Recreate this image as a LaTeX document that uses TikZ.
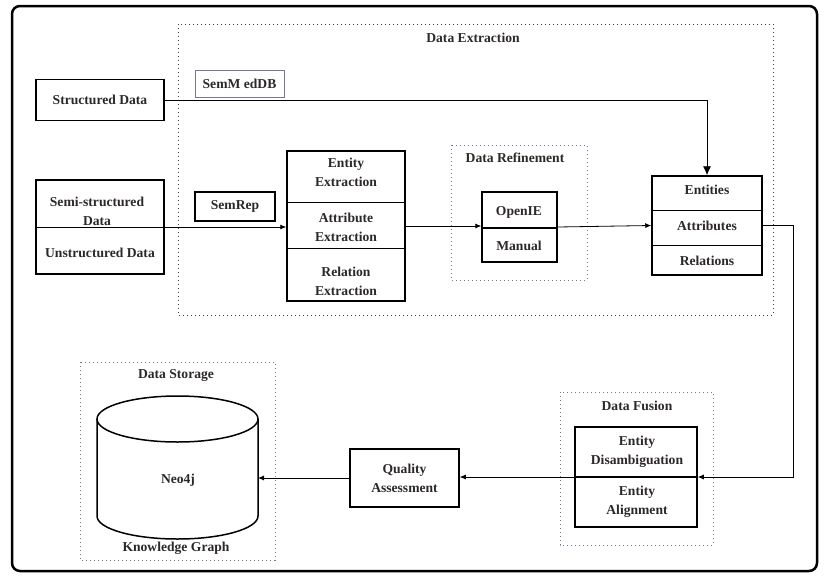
\documentclass[tikz,border=0pt]{standalone}
\usepackage{fontspec}
\setmainfont{Liberation Serif}
\usetikzlibrary{arrows.meta}

\definecolor{grpgray}{RGB}{125,115,150}
\definecolor{txtgray}{RGB}{45,40,40}

\tikzset{
  box/.style={draw, line width=1.5pt, inner sep=0pt},
  part/.style={font=\fontsize{13.6}{19}\selectfont\bfseries, text=txtgray, align=center},
  group/.style={draw=grpgray, dash pattern=on 1pt off 3pt, line width=1pt},
  arr/.style={-{Latex[length=6pt,width=5pt]}, line width=0.8pt},
}

\begin{document}
\begin{tikzpicture}[x=1pt, y=-1pt]
  \useasboundingbox (0,0) rectangle (830,581);

  % 外枠
  \draw[line width=2.5pt, rounded corners=8pt] (12,6) rectangle (817,571);

  % 点線の枠
  \draw[group, draw=black!75] (178,24) rectangle (773,315);
  \draw[group] (451,145) rectangle (587,280);
  \draw[group] (560,392) rectangle (713,545);
  \draw[group] (80,362) rectangle (275,560);

  % 箱
  \node[box, part, minimum width=128pt, minimum height=41pt] (sd) at (100,100) {Structured Data};
  \node[box, part, draw=grpgray, line width=0.8pt, minimum width=89pt, minimum height=27pt] (semmed) at (239.5,83.5) {SemM edDB};
  \node[box, part, minimum width=80pt, minimum height=29pt] (semrep) at (235,206.5) {SemRep};
  \node[box, minimum width=128pt, minimum height=94pt] (semi) at (100,227) {};
  \node[box, minimum width=118pt, minimum height=150pt] (ext) at (346,226) {};
  \node[box, minimum width=75pt, minimum height=70pt] (ref) at (519.5,227) {};
  \node[box, minimum width=110pt, minimum height=99pt] (ent) at (707,225.5) {};
  \node[box, minimum width=122pt, minimum height=100pt] (fus) at (636,477) {};
  \node[box, part, minimum width=109pt, minimum height=58pt] (qa) at (404.5,478) {Quality\\Assessment};

  % 円柱
  \draw[line width=1.5pt] (97,419) -- (97,516) arc[start angle=180, end angle=0, x radius=80.5, y radius=23] -- (258,419);
  \draw[line width=1.5pt] (177.5,419) ellipse[x radius=80.5, y radius=23];
  \coordinate (neo) at (258,478);

  % 区切り線
  \draw[line width=0.8pt] (36,227) -- (164,227);
  \draw[line width=0.8pt] (287,202) -- (405,202);
  \draw[line width=0.8pt] (287,248) -- (406,248);
  \draw[line width=1.5pt] (482,228) -- (557,228);
  \draw[line width=0.8pt] (652,210) -- (762,210);
  \draw[line width=0.8pt] (652,245) -- (762,245);
  \draw[line width=1.5pt] (575,477) -- (697,477);

  % 矢印
  \draw[-{Latex[length=9pt,width=8pt]}, line width=0.8pt] (sd.east) -| (ent.north);
  \draw[arr] (semi.east) -- (semi.east -| ext.west);
  \draw[arr] (ext.east) -- (ext.east -| ref.west);
  \draw[arr] (ref.east) -- (ent.west);
  \draw[arr] (ent.east) -- ++(31,0) |- (fus.east);
  \draw[arr] (fus.west) -- (fus.west -| qa.east);
  \draw[arr] (qa.west) -- (neo);

  % 文字
  \node[part] (tde) at (473,38) {Data Extraction};
  \node[part] (tdr) at (515,158) {Data Refinement};
  \node[part] (tdf) at (637,406) {Data Fusion};
  \node[part] (tds) at (176,375) {Data Storage};
  \node[part] (semitxt) at (97,211) {Semi-structured\\Data};
  \node[part] (unstxt) at (100,253) {Unstructured Data};
  \node[part] (entext) at (346,172) {Entity\\Extraction};
  \node[part] (attext) at (346,227) {Attribute\\Extraction};
  \node[part] (relext) at (346,281) {Relation\\Extraction};
  \node[part] (openie) at (519,212) {OpenIE};
  \node[part] (manual) at (519,246) {Manual};
  \node[part] (entities) at (707,190) {Entities};
  \node[part] (attrs) at (707,226) {Attributes};
  \node[part] (rels) at (707,261) {Relations};
  \node[part] (disamb) at (637,452) {Entity\\Disambiguation};
  \node[part] (align) at (637,502) {Entity\\Alignment};
  \node[part] (neotxt) at (178,480) {Neo4j};
  \node[part] (kg) at (176,548) {Knowledge Graph};
\end{tikzpicture}
\end{document}
